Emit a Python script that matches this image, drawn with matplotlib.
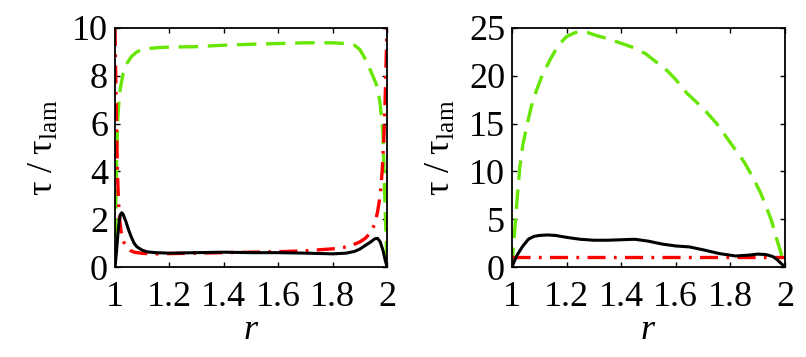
import numpy as np
import matplotlib.pyplot as plt

plt.rcParams['font.family'] = ['Liberation Serif', 'DejaVu Serif']
plt.rcParams['mathtext.fontset'] = 'custom'
plt.rcParams['mathtext.rm'] = 'Liberation Serif'
plt.rcParams['mathtext.it'] = 'Liberation Serif:italic'
plt.rcParams['lines.scale_dashes'] = False

# ---- left panel data ----
r_green_l = [1.0, 1.003, 1.006, 1.01, 1.015, 1.02, 1.03, 1.04, 1.06, 1.08, 1.1, 1.13, 1.16,
             1.2, 1.3, 1.4, 1.5, 1.6, 1.7, 1.8, 1.85, 1.88, 1.9, 1.92, 1.94, 1.955, 1.965,
             1.975, 1.985, 1.99, 1.995, 2.0]
green_l = [0, 2.5, 4.5, 6.2, 7.0, 7.5, 8.1, 8.45, 8.8, 9.0, 9.1, 9.15, 9.18,
           9.2, 9.22, 9.28, 9.32, 9.35, 9.38, 9.38, 9.35, 9.28, 9.1, 8.7, 8.2, 7.8, 7.5,
           6.8, 5.6, 3.5, 1.8, 0]

r_red_l = [1.0, 1.002, 1.004, 1.006, 1.008, 1.01, 1.013, 1.017, 1.022, 1.03, 1.04, 1.055,
           1.07, 1.1, 1.15, 1.2, 1.3, 1.4, 1.5, 1.6, 1.7, 1.75, 1.8, 1.84, 1.87, 1.9, 1.92,
           1.94, 1.955, 1.965, 1.975, 1.982, 1.988, 1.993, 1.997, 2.0]
red_l = [10, 8.5, 7, 5.6, 4.5, 3.6, 2.7, 2.0, 1.5, 1.1, 0.85, 0.7,
         0.62, 0.57, 0.55, 0.56, 0.58, 0.6, 0.62, 0.64, 0.68, 0.72, 0.76, 0.82, 0.9, 1.05, 1.2,
         1.45, 1.8, 2.3, 3.0, 4.0, 5.3, 7.0, 8.8, 10]

r_black_l = [1.0, 1.005, 1.01, 1.015, 1.02, 1.025, 1.03, 1.04, 1.05, 1.06, 1.07, 1.08, 1.1,
             1.12, 1.15, 1.2, 1.3, 1.4, 1.5, 1.6, 1.7, 1.8, 1.85, 1.88, 1.9, 1.92, 1.94,
             1.955, 1.965, 1.975, 1.985, 1.993, 2.0]
black_l = [0, 0.6, 1.3, 1.9, 2.2, 2.27, 2.2, 1.9, 1.55, 1.25, 1.0, 0.85, 0.7,
           0.63, 0.6, 0.58, 0.6, 0.62, 0.6, 0.6, 0.58, 0.55, 0.58, 0.65, 0.75, 0.9, 1.05,
           1.18, 1.2, 1.05, 0.7, 0.3, 0]

# ---- right panel data ----
r_green_r = [1.0, 1.005, 1.011, 1.02, 1.029, 1.04, 1.054, 1.07, 1.09, 1.11, 1.14, 1.17, 1.2,
             1.23, 1.25, 1.28, 1.31, 1.35, 1.4, 1.44, 1.49, 1.53, 1.57, 1.6, 1.64, 1.7, 1.75,
             1.81, 1.85, 1.88, 1.91, 1.93, 1.95, 1.97, 1.985, 2.0]
green_r = [0, 2.0, 4.2, 7.5, 10.5, 12.8, 14.7, 16.7, 18.5, 20.0, 21.7, 23.2, 24.1,
           24.5, 24.6, 24.5, 24.2, 23.9, 23.4, 23.0, 22.3, 21.4, 20.5, 19.6, 18.2, 16.6, 15.0,
           12.6, 11.0, 9.5, 7.8, 6.4, 4.9, 2.9, 1.5, 0]

r_black_r = [1.0, 1.01, 1.02, 1.04, 1.06, 1.08, 1.1, 1.13, 1.16, 1.2, 1.25, 1.3, 1.35, 1.4,
             1.45, 1.5, 1.55, 1.6, 1.65, 1.7, 1.76, 1.82, 1.87, 1.9, 1.93, 1.955, 1.97,
             1.985, 2.0]
black_r = [0, 0.7, 1.3, 2.2, 2.9, 3.2, 3.3, 3.35, 3.3, 3.1, 2.9, 2.8, 2.8, 2.85,
           2.9, 2.7, 2.4, 2.2, 2.1, 1.8, 1.4, 1.15, 1.25, 1.35, 1.3, 1.1, 0.8, 0.4, 0]

r_red_r = [1.0, 2.0]
red_r = [1.0, 1.0]

xticks = [1, 1.2, 1.4, 1.6, 1.8, 2]
xticklabels = ['1', '1.2', '1.4', '1.6', '1.8', '2']
yticks_l = [0, 2, 4, 6, 8, 10]
yticks_r = [0, 5, 10, 15, 20, 25]

GREEN = '#66E600'
RED = '#FF0000'
FS = 26

fig = plt.figure(figsize=(8.06, 3.57), dpi=100)
ax1 = fig.add_axes([0.1427, 0.2521, 0.3375, 0.6695])
ax2 = fig.add_axes([0.6352, 0.2521, 0.3387, 0.6695])

panels = [
    (ax1, r_green_l, green_l, r_red_l, red_l, r_black_l, black_l, yticks_l, 10),
    (ax2, r_green_r, green_r, r_red_r, red_r, r_black_r, black_r, yticks_r, 25),
]

for ax, rg, g, rr, rd, rb, b, yt, ymax in panels:
    ax.plot(rg, g, color=GREEN, lw=2.4, dashes=(14, 7), dash_capstyle='butt')
    ax.plot(rr, rd, color=RED, lw=2.4, dashes=(13, 6, 2, 6), dash_capstyle='butt')
    ax.plot(rb, b, color='black', lw=2.2)
    ax.set_xlim(1, 2)
    ax.set_ylim(0, ymax)
    ax.set_xticks(xticks)
    ax.set_xticklabels(xticklabels)
    ax.set_yticks(yt)
    ax.tick_params(direction='in', top=True, right=True, length=3.5, width=1,
                   labelsize=FS, pad=5)
    ax.tick_params(axis='x', pad=10)
    for s in ax.spines.values():
        s.set_linewidth(1.3)
    ax.set_xlabel('$r$', fontsize=FS, labelpad=0)
    ax.set_ylabel(r'$\mathrm{\tau\ /\ \tau_{lam}}$', fontsize=FS, labelpad=8)

fig.savefig('out.png', dpi=100, facecolor='white')
